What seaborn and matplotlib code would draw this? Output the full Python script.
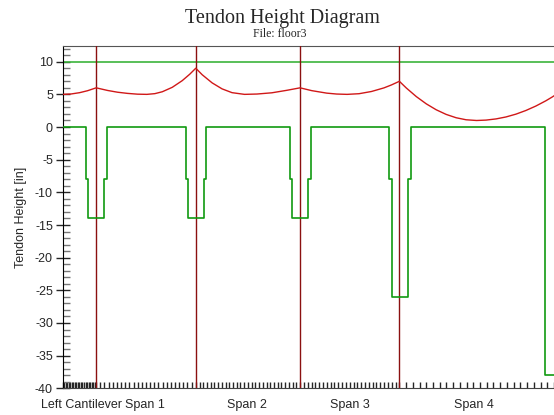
import matplotlib
matplotlib.use('Agg')
import matplotlib.pyplot as plt
import numpy as np
import pandas as pd
import seaborn as sns

# span layout (x in ft)
supports = [6.72, 26.72, 47.66, 67.6]
span_edges = [0, 6.72, 26.72, 47.66, 67.6, 100]
tick_divs = [22, 24, 28, 26, 24]
span_labels = ['Left Cantilever', 'Span 1', 'Span 2', 'Span 3', 'Span 4']
label_pos = [3.8, 16.56, 37.06, 57.66, 82.66]

# tendon profile
tendon_x = [0, 1.7, 3.4, 5.0, 6.72,
            9.0, 11.0, 13.0, 15.0, 16.9, 18.5, 20.0, 22.0, 24.0, 25.5, 26.72,
            28.0, 30.0, 32.0, 34.0, 36.5, 39.0, 42.0, 45.0, 47.66,
            50.0, 53.0, 55.0, 57.1, 59.5, 62.0, 64.5, 66.0, 67.6,
            69.0, 71.0, 73.0, 75.0, 77.0, 79.0, 81.0, 83.1, 85.0, 87.0, 89.0,
            91.0, 93.0, 95.0, 97.0, 98.3, 100.0]
tendon_y = [5.0, 5.06, 5.26, 5.56, 6.0,
            5.60, 5.33, 5.15, 5.03, 5.0, 5.11, 5.40, 6.08, 7.10, 8.08, 9.0,
            8.01, 6.76, 5.84, 5.26, 5.0, 5.05, 5.24, 5.62, 6.0,
            5.57, 5.19, 5.05, 5.0, 5.10, 5.44, 5.99, 6.44, 7.0,
            5.97, 4.66, 3.55, 2.64, 1.93, 1.42, 1.11, 1.0, 1.06, 1.24, 1.54,
            1.97, 2.53, 3.21, 4.01, 4.6, 5.45]

# slab soffit / drop panels (step profile)
slab_x = [0, 4.6, 5.06, 8.32, 8.8, 24.66, 25.12, 28.32, 28.86,
          45.6, 46.06, 49.32, 49.86, 65.6, 66.06, 69.32, 69.86, 96.92, 100]
slab_y = [0, -8, -14, -8, 0, -8, -14, -8, 0,
          -8, -14, -8, 0, -8, -26, -8, 0, -38, -38]

top_limit = 10

sns.set_style('ticks')
plt.rcParams['font.family'] = ['Liberation Sans', 'DejaVu Sans']
plt.rcParams['axes.unicode_minus'] = False

fig = plt.figure(figsize=(5.54, 4.15), dpi=100)
ax = fig.add_axes([0.1132, 0.0643, 0.8868, 0.8248])

df_t = pd.DataFrame({'x': tendon_x, 'y': tendon_y})
df_s = pd.DataFrame({'x': slab_x, 'y': slab_y})

ax.axhline(top_limit, color='#3cb43c', lw=1.2, zorder=2)
for s in supports:
    ax.axvline(s, color='#8b1010', lw=1.0, zorder=3)
sns.lineplot(data=df_s, x='x', y='y', ax=ax, color='#109a10', lw=1.2,
             drawstyle='steps-post', estimator=None, zorder=4)
sns.lineplot(data=df_t, x='x', y='y', ax=ax, color='#d01818', lw=1.0,
             estimator=None, zorder=5)

ax.set_xlim(0, 98.26)
ax.set_ylim(-40, 12.4)

ax.set_yticks(np.arange(-40, 11, 5))
ax.set_yticks(np.arange(-40, 13, 1), minor=True)
ax.tick_params(axis='y', which='major', direction='inout', length=10, width=1,
               labelsize=9, pad=2)
ax.tick_params(axis='y', which='minor', direction='in', length=5, width=1,
               color='#777777')

minor_x = []
for a, b, n in zip(span_edges[:-1], span_edges[1:], tick_divs):
    minor_x.extend(np.linspace(a, b, n + 1)[:-1])
ax.set_xticks(minor_x, minor=True)
ax.set_xticks(label_pos, span_labels)
ax.tick_params(axis='x', which='major', length=0, labelsize=9, pad=8)
ax.tick_params(axis='x', which='minor', direction='in', length=4, width=1)

ax.set_xlabel('')
ax.set_ylabel('Tendon Height [in]', fontsize=9, labelpad=6)

ax.spines['right'].set_visible(False)
ax.spines['top'].set_color('#555555')
ax.spines['left'].set_color('black')
ax.spines['bottom'].set_color('#444444')

fig.text(0.51, 0.955, 'Tendon Height Diagram', ha='center', va='center',
         family='Liberation Serif', fontsize=14.5)
fig.text(0.505, 0.918, 'File: floor3', ha='center', va='center',
         family='Liberation Serif', fontsize=8.5)

fig.savefig('out.png', dpi=100)
